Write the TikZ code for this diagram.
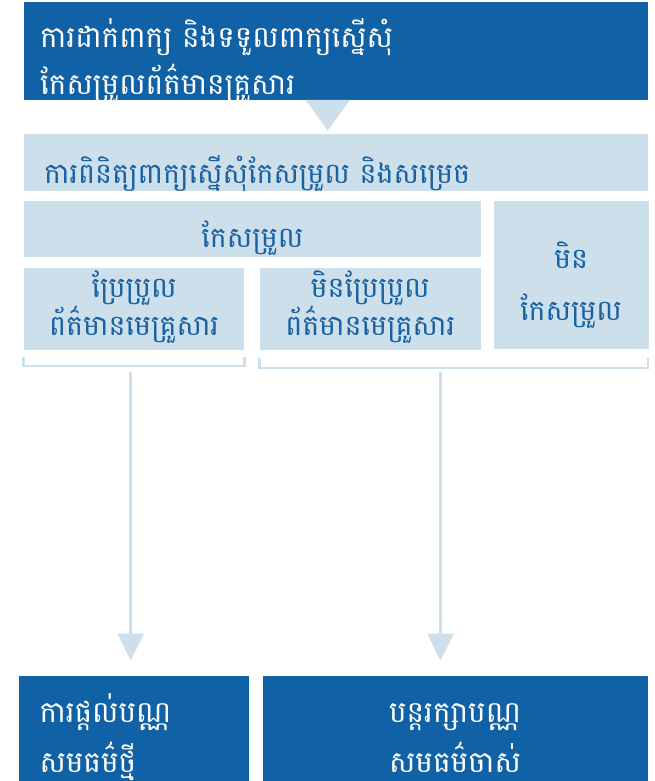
\documentclass[tikz,border=0pt]{standalone}
\usepackage{fontspec}
\newfontfamily\khmerfont[Script=Khmer]{Battambang}
\usetikzlibrary{arrows.meta,positioning}
\definecolor{cardblue}{HTML}{1061A5}
\definecolor{paleblue}{HTML}{CDDFEB}
\definecolor{inkblue}{HTML}{1862A4}
\tikzset{
  flow dark/.style={fill=cardblue,draw=none,inner sep=0pt,anchor=north west},
  flow pale/.style={fill=paleblue,draw=none,inner sep=0pt,anchor=north west},
  flow white/.style={text=white,inner sep=0pt,align=left,font=\khmerfont\fontsize{29.5}{47}\selectfont},
  flow ink/.style={text=inkblue,inner sep=0pt,align=center,anchor=base,font=\khmerfont\fontsize{28.5}{32}\selectfont},
  flow brace/.style={paleblue,line width=2.5pt},
  flow arrow/.style={paleblue,line width=2.7pt,-{Triangle[width=26pt,length=27pt]},shorten >=15pt}
}
\begin{document}
\begin{tikzpicture}[x=1pt,y=-1pt]
  \useasboundingbox (0,0) rectangle (654,781);
  % request and review
  \node[flow dark,minimum width=624pt,minimum height=98pt] (apply) at (24,2) {};
  \node[flow white,anchor=base west] (applytxt) at (40,95)
    {ការដាក់ពាក្យ និងទទួលពាក្យស្នើសុំ\\កែសម្រួលព័ត៌មានគ្រួសារ};
  \fill[paleblue] (305.7,100) -- (350,100) -- (327.7,130.7) -- cycle;
  \node[flow pale,minimum width=624.5pt,minimum height=56.7pt] (review) at (23.5,134) {};
  \node[flow ink,anchor=base west] (reviewtxt) at (44,183) {ការពិនិត្យពាក្យស្នើសុំកែសម្រួល និងសម្រេច};
  % decision boxes
  \node[flow pale,minimum width=457pt,minimum height=56pt] (edit) at (23.7,200.7) {};
  \node[flow ink] (edittxt) at ([yshift=9.7pt]edit.south) {កែសម្រួល};
  \node[flow pale,minimum width=155pt,minimum height=147.6pt] (noedit) at (493.3,200.7) {};
  \node[flow ink,font=\khmerfont\fontsize{28.5}{52}\selectfont] (noedittxt) at ([yshift=28.3pt]noedit.south) {មិន\\កែសម្រួល};
  \node[flow pale,minimum width=220.3pt,minimum height=82pt] (change) at (23.7,267.3) {};
  \node[flow ink] (changetxt) at ([yshift=14.3pt]change.south) {ប្រែប្រួល\\ព័ត៌មានមេគ្រួសារ};
  \node[flow pale,minimum width=221.4pt,minimum height=82pt] (keep) at (259.3,267.3) {};
  \node[flow ink] (keeptxt) at ([yshift=14.3pt]keep.south) {មិនប្រែប្រួល\\ព័ត៌មានមេគ្រួសារ};
  % outcomes
  \node[flow dark,minimum width=230pt,minimum height=120pt] (newcard) at (18.3,675.7) {};
  \node[flow white,anchor=base west,font=\khmerfont\fontsize{29.5}{50}\selectfont] (newcardtxt) at (39.3,772) {ការផ្តល់បណ្ណ\\សមធម៌ថ្មី};
  \node[flow dark,minimum width=385.5pt,minimum height=120pt] (oldcard) at (262.7,675.7) {};
  \node[flow white,align=center,anchor=base,font=\khmerfont\fontsize{29.5}{50}\selectfont] (oldcardtxt) at (455,772) {បន្តរក្សាបណ្ណ\\សមធម៌ចាស់};
  % braces and arrows
  \draw[flow brace] (change.south west) ++(0,7.5) -- ++(0,9) -| ([yshift=-7.5pt]change.south east);
  \draw[flow brace] (keep.south west) ++(0,8.7) -- ++(0,9.5) -| (648,358);
  \coordinate (lefttap) at (130.7,371.7);
  \coordinate (righttap) at (440.5,371.7);
  \draw[flow arrow] (lefttap) -- (lefttap |- newcard.north);
  \draw[flow arrow] (righttap) -- (righttap |- oldcard.north);
\end{tikzpicture}
\end{document}
